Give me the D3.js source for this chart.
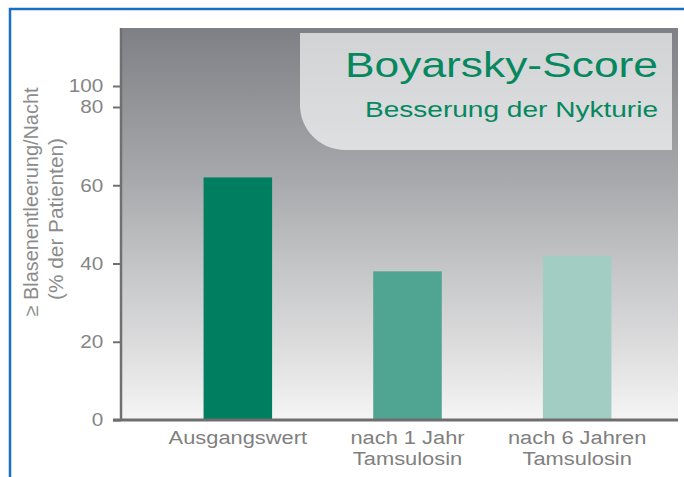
<!DOCTYPE html>
<html lang="de">
  <head>
    <meta charset="UTF-8" />
    <title>Boyarsky-Score</title>
    <style>
      body {
        margin: 0;
        background: #fff;
      }
      svg text {
        font-family: "Liberation Sans", Arial, sans-serif;
      }
    </style>
  </head>
  <body>
    <svg width="684" height="477" id="chart"></svg>

    <script src="https://d3js.org/d3.v7.min.js"></script>
    <script>
      var categories = ["Ausgangswert", "nach 1 Jahr", "nach 6 Jahren"];
      var labelLines = [
        ["Ausgangswert"],
        ["nach 1 Jahr", "Tamsulosin"],
        ["nach 6 Jahren", "Tamsulosin"],
      ];
      var values = [62, 38, 42];
      var barColors = ["#007f60", "#4fa592", "#a2cdc3"];
      var yTicks = [0, 20, 40, 60, 80, 100];

      var plot = { left: 121, right: 678, top: 28, bottom: 420 };
      var svg = d3.select("#chart");

      // the 100 label sits closer to 80 than the others in the original
      var y = d3.scaleLinear().domain([0, 80, 100]).range([420, 107, 86]);
      var x = d3
        .scaleBand()
        .domain(categories)
        .range([153, 662])
        .paddingInner(0.596)
        .paddingOuter(0.298);

      var defs = svg.append("defs");
      var bg = defs
        .append("linearGradient")
        .attr("id", "bg")
        .attr("x1", 0).attr("y1", 0).attr("x2", 0).attr("y2", 1);
      [
        [0, "#7f8085"],
        [0.38, "#a7a8ab"],
        [0.6, "#c3c4c6"],
        [0.8, "#dbdbdc"],
        [1, "#f5f5f5"],
      ].forEach(function (s) {
        bg.append("stop").attr("offset", s[0]).attr("stop-color", s[1]);
      });
      var boxGrad = defs
        .append("linearGradient")
        .attr("id", "box")
        .attr("x1", 0).attr("y1", 0).attr("x2", 0).attr("y2", 1);
      boxGrad.append("stop").attr("offset", 0).attr("stop-color", "#d2d3d5");
      boxGrad.append("stop").attr("offset", 1).attr("stop-color", "#dedfe1");

      // blue frame
      svg
        .append("rect")
        .attr("x", 10)
        .attr("y", 9)
        .attr("width", 720)
        .attr("height", 520)
        .attr("fill", "#fff")
        .attr("stroke", "#1b6fc2")
        .attr("stroke-width", 2.5);

      // plot background
      svg
        .append("rect")
        .attr("x", plot.left)
        .attr("y", plot.top)
        .attr("width", plot.right - plot.left)
        .attr("height", plot.bottom - plot.top)
        .attr("fill", "url(#bg)");

      // title box with rounded lower left corner
      svg
        .append("path")
        .attr("d", "M300,33 H672 V150 H345 A45,45 0 0 1 300,105 Z")
        .attr("fill", "url(#box)");

      svg
        .append("text")
        .attr("x", 345)
        .attr("y", 77)
        .attr("font-size", 35)
        .attr("textLength", 313)
        .attr("lengthAdjust", "spacingAndGlyphs")
        .attr("fill", "#06885f")
        .text("Boyarsky-Score");
      svg
        .append("text")
        .attr("x", 365)
        .attr("y", 117)
        .attr("font-size", 21.5)
        .attr("textLength", 293)
        .attr("lengthAdjust", "spacingAndGlyphs")
        .attr("fill", "#06885f")
        .text("Besserung der Nykturie");

      // bars
      svg
        .selectAll("rect.bar")
        .data(values)
        .join("rect")
        .attr("class", "bar")
        .attr("x", function (d, i) {
          return x(categories[i]);
        })
        .attr("y", function (d) {
          return y(d);
        })
        .attr("width", x.bandwidth())
        .attr("height", function (d) {
          return y(0) - y(d);
        })
        .attr("fill", function (d, i) {
          return barColors[i];
        });

      // y axis
      var yAxis = svg
        .append("g")
        .attr("transform", "translate(" + plot.left + ",0)")
        .call(
          d3.axisLeft(y).tickValues(yTicks).tickSize(8).tickSizeOuter(0).tickPadding(7.5)
        );
      yAxis.select(".domain").remove();
      yAxis.selectAll(".tick line").attr("stroke", "#707070").attr("stroke-width", 2);
      yAxis
        .selectAll(".tick text")
        .attr("font-size", 18)
        .attr("fill", "#858585")
        .attr("transform", "scale(1.15,1)");

      svg
        .append("line")
        .attr("x1", plot.left)
        .attr("x2", plot.left)
        .attr("y1", plot.top)
        .attr("y2", plot.bottom)
        .attr("stroke", "#707070")
        .attr("stroke-width", 2.5);
      svg
        .append("line")
        .attr("x1", plot.left - 8)
        .attr("x2", plot.right)
        .attr("y1", y(0))
        .attr("y2", y(0))
        .attr("stroke", "#6e6e6e")
        .attr("stroke-width", 3);

      // category labels
      var cat = svg
        .selectAll("g.cat")
        .data(labelLines)
        .join("g")
        .attr("class", "cat")
        .attr("transform", function (d, i) {
          return "translate(" + (x(categories[i]) + x.bandwidth() / 2) + ",444) scale(1.15,1)";
        });
      cat
        .selectAll("text")
        .data(function (d) {
          return d;
        })
        .join("text")
        .attr("y", function (d, i) {
          return i * 21;
        })
        .attr("text-anchor", "middle")
        .attr("font-size", 19)
        .attr("fill", "#808080")
        .text(function (d) {
          return d;
        });

      // y axis title
      svg
        .append("text")
        .attr("transform", "translate(38,202) rotate(-90)")
        .attr("text-anchor", "middle")
        .attr("font-size", 19.5)
        .attr("textLength", 229)
        .attr("lengthAdjust", "spacingAndGlyphs")
        .attr("fill", "#8c8c8c")
        .text("≥ Blasenentleerung/Nacht");
      svg
        .append("text")
        .attr("transform", "translate(63,219) rotate(-90)")
        .attr("text-anchor", "middle")
        .attr("font-size", 19.5)
        .attr("textLength", 162)
        .attr("lengthAdjust", "spacingAndGlyphs")
        .attr("fill", "#8c8c8c")
        .text("(% der Patienten)");
    </script>
  </body>
</html>
